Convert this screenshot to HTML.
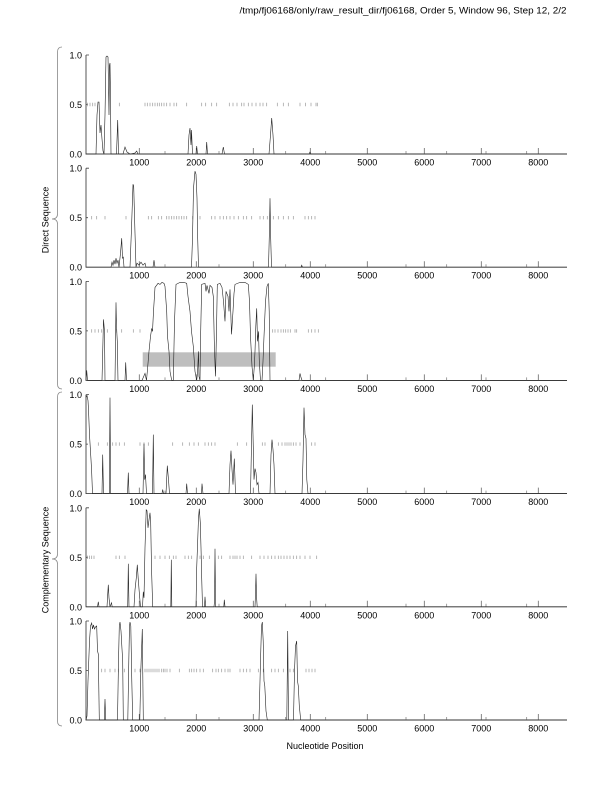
<!DOCTYPE html>
<html><head><meta charset="utf-8"><style>
html,body{margin:0;padding:0;background:#fff;}
svg{display:block;}
text{font-family:"Liberation Sans",Arial,sans-serif;fill:#000;}
</style></head><body>
<svg width="612" height="792" viewBox="0 0 612 792" xmlns="http://www.w3.org/2000/svg">
<rect width="612" height="792" fill="#fff"/>
<text x="566.5" y="13.5" font-size="9" text-anchor="end" textLength="327" lengthAdjust="spacingAndGlyphs">/tmp/fj06168/only/raw_result_dir/fj06168, Order 5, Window 96, Step 12, 2/2</text>

<!-- braces -->
<path d="M62,47 Q57.5,47 57.5,52 L57.5,214 Q57.5,219 52,219 Q57.5,219 57.5,224 L57.5,384 Q57.5,389 62,389" fill="none" stroke="#888" stroke-width="0.8"/>
<path d="M62,392 Q57.5,392 57.5,397 L57.5,554 Q57.5,559 52,559 Q57.5,559 57.5,564 L57.5,721 Q57.5,726 62,726" fill="none" stroke="#888" stroke-width="0.8"/>
<text transform="translate(48.5,220) rotate(-90)" font-size="9" text-anchor="middle">Direct Sequence</text>
<text transform="translate(48.5,560) rotate(-90)" font-size="9" text-anchor="middle">Complementary Sequence</text>
<text x="325" y="749" font-size="9" text-anchor="middle">Nucleotide Position</text>

<defs>
<g id="axes">
<path d="M86,0 V99 H567" fill="none" stroke="#444" stroke-width="0.9"/>
<path d="M86,0 h3 M86,49.5 h2" stroke="#444" stroke-width="0.8"/>
<path d="M139.3,99 v-6 M196.3,99 v-6 M253.3,99 v-6 M310.3,99 v-6 M367.3,99 v-6 M424.3,99 v-6 M481.3,99 v-6 M538.3,99 v-6" stroke="#666" stroke-width="0.8"/>
<path d="M165,99 v-3 M219,99 v-3 M285.7,99 v-3 M325.7,99 v-3 M406,99 v-3 M446.7,99 v-3 M486,99 v-3 M526.7,99 v-3" stroke="#777" stroke-width="0.7"/>
<text x="82" y="3.5" font-size="9" text-anchor="end">1.0</text>
<text x="82" y="53" font-size="9" text-anchor="end">0.5</text>
<text x="82" y="102.5" font-size="9" text-anchor="end">0.0</text>
<text x="139.3" y="110.5" font-size="9" text-anchor="middle">1000</text>
<text x="196.3" y="110.5" font-size="9" text-anchor="middle">2000</text>
<text x="253.3" y="110.5" font-size="9" text-anchor="middle">3000</text>
<text x="310.3" y="110.5" font-size="9" text-anchor="middle">4000</text>
<text x="367.3" y="110.5" font-size="9" text-anchor="middle">5000</text>
<text x="424.3" y="110.5" font-size="9" text-anchor="middle">6000</text>
<text x="481.3" y="110.5" font-size="9" text-anchor="middle">7000</text>
<text x="538.3" y="110.5" font-size="9" text-anchor="middle">8000</text>
</g>
</defs>

<!-- Panel 1 -->
<g transform="translate(0,55)">
<use href="#axes"/>
<path stroke="#999" stroke-width="0.7" d="M87.3,47.8v3.4M90,47.8v3.4M92.7,47.8v3.4M95,47.8v3.4M119.3,47.8v3.4M145,47.8v3.4M147.3,47.8v3.4M150,47.8v3.4M152.7,47.8v3.4M155,47.8v3.4M157.3,47.8v3.4M159.3,47.8v3.4M161.7,47.8v3.4M164,47.8v3.4M166.7,47.8v3.4M170,47.8v3.4M174,47.8v3.4M176.7,47.8v3.4M186.7,47.8v3.4M201.7,47.8v3.4M205.7,47.8v3.4M211.7,47.8v3.4M216.7,47.8v3.4M229.3,47.8v3.4M233,47.8v3.4M237,47.8v3.4M241.7,47.8v3.4M244,47.8v3.4M248.3,47.8v3.4M252,47.8v3.4M256,47.8v3.4M260,47.8v3.4M263,47.8v3.4M266.7,47.8v3.4M277.3,47.8v3.4M283.3,47.8v3.4M288.3,47.8v3.4M300,47.8v3.4M305.5,47.8v3.4M311,47.8v3.4M316,47.8v3.4M317.3,47.8v3.4"/>
<polyline fill="none" stroke="#222" stroke-width="0.6" points="86,99 96,99 97,60 98,47 99,47 100,78 101,70 102,84 103,96 104,99 105,60 106,2 107,1 108,2 109,60 109.5,10 110,8 110.5,40 111,99 116.5,99 117.7,65 118.5,99 123,99 125,92 127,97 130,99 135,98 136.7,96 138,99 188,99 189,80 190,73 191,90 191.5,75 192.5,99 196,99 196.7,91 197.5,99 206,99 206.7,87 207.5,99 222,99 223.3,92 224.5,99 269,99 270.5,80 271.7,63 273,80 274,99 309,99 310,97 311,99 567,99"/>
</g>

<!-- Panel 2 -->
<g transform="translate(0,168.2)">
<use href="#axes"/>
<path stroke="#999" stroke-width="0.7" d="M91.7,47.8v3.4M96.7,47.8v3.4M105,47.8v3.4M126,47.8v3.4M148.3,47.8v3.4M151.7,47.8v3.4M158.3,47.8v3.4M161.7,47.8v3.4M166.7,47.8v3.4M169,47.8v3.4M171.7,47.8v3.4M174,47.8v3.4M176.7,47.8v3.4M179,47.8v3.4M181.7,47.8v3.4M184,47.8v3.4M186.7,47.8v3.4M192.7,47.8v3.4M200,47.8v3.4M211.7,47.8v3.4M215,47.8v3.4M220,47.8v3.4M223.3,47.8v3.4M226.7,47.8v3.4M230,47.8v3.4M234,47.8v3.4M238.3,47.8v3.4M243.3,47.8v3.4M246.7,47.8v3.4M251.7,47.8v3.4M260,47.8v3.4M263.3,47.8v3.4M267.3,47.8v3.4M273.3,47.8v3.4M278.3,47.8v3.4M283.3,47.8v3.4M288.3,47.8v3.4M293.3,47.8v3.4M305,47.8v3.4M308.3,47.8v3.4M311.7,47.8v3.4M315,47.8v3.4"/>
<polyline fill="none" stroke="#222" stroke-width="0.6" points="86,99 111,99 112,94 113,97 114,92 115,96 116,90 117,95 118,92 119,99 120.5,85 121.7,70 122.5,90 123.3,89 124,99 130,99 131.5,60 133,16 133.7,18 135,65 136,99 137,95 139,97 141,94 143,97 145,95 146,99 153,99 154,92 155,99 191.5,99 192.5,70 193.5,20 195,3 196,6 197,30 197.7,70 198.5,99 268.5,99 269.5,60 270,30 270.7,70 271.5,99 301,99 301.7,97 302.5,99 567,99"/>
</g>

<!-- Panel 3 -->
<g transform="translate(0,281.4)">
<rect x="142.7" y="70.9" width="133" height="14.4" fill="#bebebe"/>
<use href="#axes"/>
<path stroke="#999" stroke-width="0.7" d="M91.7,47.8v3.4M95,47.8v3.4M98.3,47.8v3.4M101.7,47.8v3.4M107.3,47.8v3.4M116.7,47.8v3.4M121.7,47.8v3.4M133.3,47.8v3.4M140,47.8v3.4M272.7,47.8v3.4M275,47.8v3.4M278,47.8v3.4M281,47.8v3.4M283.3,47.8v3.4M285.7,47.8v3.4M288,47.8v3.4M290.3,47.8v3.4M295,47.8v3.4M296.7,47.8v3.4M308.3,47.8v3.4M311.7,47.8v3.4M315,47.8v3.4M318.3,47.8v3.4"/>
<polyline fill="none" stroke="#222" stroke-width="0.6" points="86,99 86.7,89 87.5,99 102,99 103.5,38 104.5,50 105,99 115,99 116,21 116.5,45 117.3,60 118,99 125,99 125.7,81 126.5,99 142,99 143.3,96 145,92 146.5,99 147.5,88 149,70 150.5,55 151.7,47 152.5,50 153.5,30 155,6 156.5,4 158,2 160,3 162,1 164,2 165,5 166,20 166.7,30 167.5,55 168.3,63 169,70 170,90 171.7,99 173.3,99 174.5,40 176,3 180,1 184,1 186.7,2 188,15 190,30 191.5,50 193.3,65 195,90 196.7,99 197.5,92 198.5,70 199,95 200,99 200.5,60 201.7,3 205,2 206,10 207,4 209,12 210,4 212,6 213.3,15 214.5,70 215.5,95 216.5,50 217.3,3 220,2 222,6 223.5,20 225,40 226,10 228,15 229,30 230,8 231.5,53 233,30 234,12 235,3 240,1 245,1 248.3,3 249.5,20 250.5,55 252,85 253.3,99 254.3,85 255,70 255.8,45 256.7,27 257.5,60 258.5,50 259.3,80 260.5,99 262,99 263,80 264,55 265.5,20 267,5 268.3,2 269.2,30 270,99 299,99 300,92 301,96 302,99 567,99"/>
</g>

<!-- Panel 4 -->
<g transform="translate(0,394.6)">
<use href="#axes"/>
<path stroke="#999" stroke-width="0.7" d="M98.3,47.8v3.4M107.3,47.8v3.4M112.7,47.8v3.4M116,47.8v3.4M119.3,47.8v3.4M124.3,47.8v3.4M140,47.8v3.4M144,47.8v3.4M148.3,47.8v3.4M172.7,47.8v3.4M182.7,47.8v3.4M189.3,47.8v3.4M194,47.8v3.4M198.3,47.8v3.4M205,47.8v3.4M208.3,47.8v3.4M211.7,47.8v3.4M215,47.8v3.4M237.3,47.8v3.4M246.7,47.8v3.4M262.3,47.8v3.4M265,47.8v3.4M278.3,47.8v3.4M282,47.8v3.4M285,47.8v3.4M287,47.8v3.4M289,47.8v3.4M291,47.8v3.4M293.3,47.8v3.4M296,47.8v3.4M300,47.8v3.4M311.7,47.8v3.4M315,47.8v3.4"/>
<polyline fill="none" stroke="#222" stroke-width="0.6" points="86,3 87,1 88,6 88.5,15 89.5,40 90.5,57 91,65 91.7,78 92.5,99 102,99 102.7,60 103.5,99 109.3,99 110,3 110.7,99 127.5,99 128.3,78 129,99 143,99 144,49 144.7,85 145.5,80 146.5,99 152.5,99 153.3,40 154,99 162,99 162.7,95 163.5,99 166,99 167.3,71 168.5,85 169.5,99 186,99 186.7,89 187.5,99 201.5,99 202,89 203,99 229,99 230,70 231,56 232,75 233,90 234.3,64 235.5,99 250.5,99 251.5,50 252.3,10 253,40 254,85 255,74 256,78 257,90 258,88 259,99 270,99 271,60 272,45 273,55 274,70 275,99 302,99 303,65 304,13 305,40 306,44 306.8,85 308,99 567,99"/>
</g>

<!-- Panel 5 -->
<g transform="translate(0,507.8)">
<use href="#axes"/>
<path stroke="#999" stroke-width="0.7" d="M87.3,47.8v3.4M89.5,47.8v3.4M91.7,47.8v3.4M94,47.8v3.4M116,47.8v3.4M119.3,47.8v3.4M125,47.8v3.4M155,47.8v3.4M160,47.8v3.4M165,47.8v3.4M169.3,47.8v3.4M173.3,47.8v3.4M176,47.8v3.4M185,47.8v3.4M188.3,47.8v3.4M191.7,47.8v3.4M200,47.8v3.4M203.3,47.8v3.4M209.3,47.8v3.4M218.3,47.8v3.4M221.7,47.8v3.4M230,47.8v3.4M233,47.8v3.4M235,47.8v3.4M237,47.8v3.4M240,47.8v3.4M243.3,47.8v3.4M251.7,47.8v3.4M260,47.8v3.4M264,47.8v3.4M268,47.8v3.4M271.7,47.8v3.4M275,47.8v3.4M278.3,47.8v3.4M281,47.8v3.4M284,47.8v3.4M287,47.8v3.4M290,47.8v3.4M293.3,47.8v3.4M296.7,47.8v3.4M300,47.8v3.4M305,47.8v3.4M310,47.8v3.4M316.7,47.8v3.4"/>
<polyline fill="none" stroke="#222" stroke-width="0.6" points="86,99 97.5,99 98.3,94 99,99 107,99 107.8,85 108.3,77 109,90 110,99 111.5,95 112.2,99 127.7,99 128.3,56 129,99 134,99 135,82 136.3,70 137.3,57 138.3,72 139.3,85 140.5,99 142.5,99 143.3,84 144,90 145,40 146.2,2 147,3 148,20 149,12 150,5 150.7,15 151.5,60 152.7,99 170.8,99 171.3,52 171.8,99 196,99 196.7,60 197.8,30 198.5,10 199.3,1 200.3,15 201,40 201.7,70 202.5,99 204.5,99 205,89 205.7,99 214,99 214.5,94 215,41 215.6,99 223.8,99 224.3,92 225,99 255,99 255.5,85 256,66 256.6,90 257.2,99 567,99"/>
</g>

<!-- Panel 6 -->
<g transform="translate(0,621)">
<use href="#axes"/>
<path stroke="#999" stroke-width="0.7" d="M101.7,47.8v3.4M105,47.8v3.4M110,47.8v3.4M115,47.8v3.4M118.3,47.8v3.4M124.3,47.8v3.4M135,47.8v3.4M140,47.8v3.4M145,47.8v3.4M147,47.8v3.4M149,47.8v3.4M151,47.8v3.4M153,47.8v3.4M155,47.8v3.4M157,47.8v3.4M159,47.8v3.4M161.7,47.8v3.4M163.3,47.8v3.4M165,47.8v3.4M167,47.8v3.4M170,47.8v3.4M179.3,47.8v3.4M189.3,47.8v3.4M191.7,47.8v3.4M194,47.8v3.4M196.7,47.8v3.4M200,47.8v3.4M203.3,47.8v3.4M212.7,47.8v3.4M216,47.8v3.4M218.3,47.8v3.4M221.7,47.8v3.4M225,47.8v3.4M228,47.8v3.4M230,47.8v3.4M240,47.8v3.4M243.3,47.8v3.4M246.7,47.8v3.4M250,47.8v3.4M258.3,47.8v3.4M263.3,47.8v3.4M271.7,47.8v3.4M275,47.8v3.4M278.3,47.8v3.4M283.3,47.8v3.4M290,47.8v3.4M293.3,47.8v3.4M306,47.8v3.4M309,47.8v3.4M312,47.8v3.4M315,47.8v3.4"/>
<polyline fill="none" stroke="#222" stroke-width="0.6" points="86,99 87,95 88,60 89.5,20 90.5,5 91.7,2 92.5,8 93.5,4 94.5,8 95.5,6 96.7,5 97.5,30 98.3,33 99.3,99 104.3,99 105,78 105.7,99 117.5,99 118.5,40 119.3,5 120,1 121,10 122,28 122.7,40 123.3,99 127.8,99 128.8,40 129.5,5 130,1 130.8,5 131.8,60 132.7,99 139.8,99 140.8,50 142.3,8 143.3,99 259,99 260.5,40 261.5,5 262.3,1 263.2,20 264,60 264.8,65 266,90 267.3,99 286.8,99 287.7,10 288.5,99 293.5,99 294.5,50 295.5,25 296.7,20 297.5,60 298.3,65 299.3,85 300.7,99 567,99"/>
</g>
</svg>
</body></html>
